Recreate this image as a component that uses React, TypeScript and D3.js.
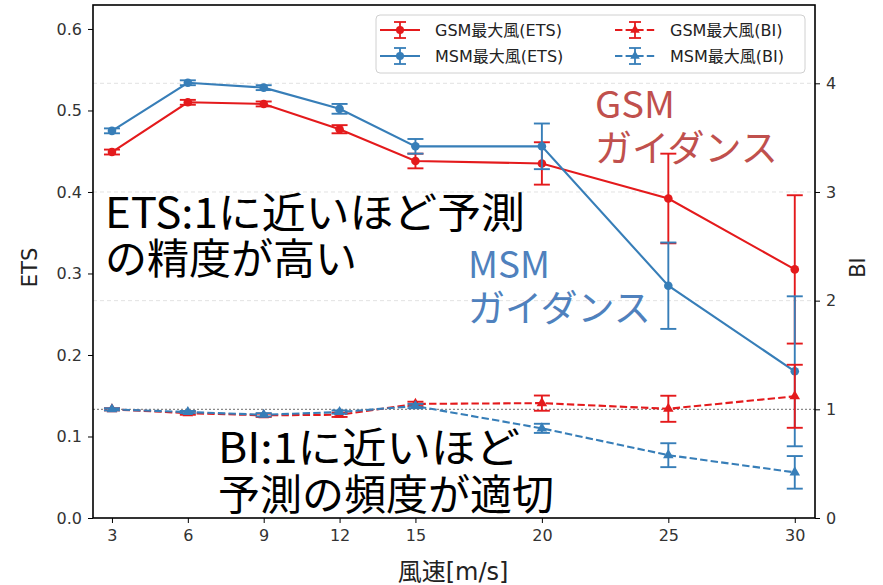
import React, { useEffect, useRef } from 'react'
import * as d3 from 'd3'

// wind speed categories [m/s]
const windSpeed = [3, 6, 9, 12, 15, 20, 25, 30]
const xTicks = [3, 6, 9, 12, 15, 20, 25, 30]

// ETS (left axis)
const gsmEts = [0.449, 0.51, 0.508, 0.477, 0.438, 0.435, 0.392, 0.305]
const gsmEtsErr = [0.003, 0.003, 0.003, 0.005, 0.009, 0.026, 0.055, 0.091]
const msmEts = [0.475, 0.534, 0.528, 0.502, 0.456, 0.456, 0.285, 0.18]
const msmEtsErr = [0.003, 0.003, 0.003, 0.006, 0.009, 0.028, 0.053, 0.092]

// BI (right axis)
const gsmBi = [1.0, 0.965, 0.945, 0.95, 1.05, 1.057, 1.005, 1.12]
const gsmBiErr = [0.01, 0.015, 0.015, 0.02, 0.02, 0.07, 0.12, 0.29]
const msmBi = [1.0, 0.975, 0.95, 0.975, 1.03, 0.825, 0.578, 0.42]
const msmBiErr = [0.01, 0.01, 0.015, 0.015, 0.02, 0.042, 0.11, 0.15]

const etsTicks = [0.0, 0.1, 0.2, 0.3, 0.4, 0.5, 0.6]
const biTicks = [0, 1, 2, 3, 4]

const legendLabels = [
  'GSM最大風(ETS)',
  'MSM最大風(ETS)',
  'GSM最大風(BI)',
  'MSM最大風(BI)',
]

const RED = '#e41a1c'
const BLUE = '#377eb8'
const FONT = '"DejaVu Sans", "Noto Sans CJK JP", sans-serif'
const JP = '"Noto Sans CJK JP", sans-serif'

const App: React.FC = () => {
  const svgRef = useRef<SVGSVGElement | null>(null)

  useEffect(() => {
    if (!svgRef.current) return
    const svg = d3.select(svgRef.current)
    svg.selectAll('*').remove()

    const width = 883
    const height = 585
    const margin = { top: 5, right: 68, bottom: 67, left: 93 }
    const x0 = margin.left
    const x1 = width - margin.right
    const y0 = height - margin.bottom
    const y1 = margin.top

    svg.append('rect').attr('width', width).attr('height', height).attr('fill', '#fff')

    const x = d3.scaleLinear().domain([2.25, 30.8]).range([x0, x1])
    const yEts = d3.scaleLinear().domain([0, 0.6294]).range([y0, y1])
    const yBi = d3.scaleLinear().domain([0, 0.6294 * 7.5]).range([y0, y1])

    // grid from the BI axis
    svg
      .append('g')
      .selectAll('line')
      .data(biTicks.filter((d) => d > 1))
      .enter()
      .append('line')
      .attr('x1', x0)
      .attr('x2', x1)
      .attr('y1', (d) => yBi(d))
      .attr('y2', (d) => yBi(d))
      .attr('stroke', '#e2e2e2')
      .attr('stroke-width', 1)
      .attr('stroke-dasharray', '4,3')

    // BI = 1 reference line
    svg
      .append('line')
      .attr('x1', x0)
      .attr('x2', x1)
      .attr('y1', yBi(1))
      .attr('y2', yBi(1))
      .attr('stroke', '#8a8a8a')
      .attr('stroke-width', 1.2)
      .attr('stroke-dasharray', '2,2')

    const drawSeries = (
      vals: number[],
      errs: number[],
      y: d3.ScaleLinear<number, number>,
      color: string,
      dashed: boolean,
      marker: 'circle' | 'triangle',
    ) => {
      const g = svg.append('g')
      const line = d3
        .line<number>()
        .x((_, i) => x(windSpeed[i]))
        .y((d) => y(d))
      g.append('path')
        .attr('d', line(vals)!)
        .attr('fill', 'none')
        .attr('stroke', color)
        .attr('stroke-width', 2.1)
        .attr('stroke-dasharray', dashed ? '7.4,3.2' : null)

      vals.forEach((v, i) => {
        const cx = x(windSpeed[i])
        const top = y(v + errs[i])
        const bot = y(v - errs[i])
        g.append('line')
          .attr('x1', cx)
          .attr('x2', cx)
          .attr('y1', top)
          .attr('y2', bot)
          .attr('stroke', color)
          .attr('stroke-width', 1.9)
        ;[top, bot].forEach((cy) => {
          g.append('line')
            .attr('x1', cx - 8)
            .attr('x2', cx + 8)
            .attr('y1', cy)
            .attr('y2', cy)
            .attr('stroke', color)
            .attr('stroke-width', 1.9)
        })
        if (marker === 'circle') {
          g.append('circle').attr('cx', cx).attr('cy', y(v)).attr('r', 4.3).attr('fill', color)
        } else {
          g.append('path')
            .attr('d', d3.symbol(d3.symbolTriangle, 48)()!)
            .attr('transform', `translate(${cx},${y(v)})`)
            .attr('fill', color)
        }
      })
    }

    drawSeries(gsmEts, gsmEtsErr, yEts, RED, false, 'circle')
    drawSeries(msmEts, msmEtsErr, yEts, BLUE, false, 'circle')
    drawSeries(gsmBi, gsmBiErr, yBi, RED, true, 'triangle')
    drawSeries(msmBi, msmBiErr, yBi, BLUE, true, 'triangle')

    // axes
    const styleAxis = (g: d3.Selection<SVGGElement, unknown, null, undefined>) => {
      g.select('.domain').remove()
      g.selectAll('.tick line').attr('stroke', '#000').attr('stroke-width', 1)
      g.selectAll('.tick text')
        .attr('fill', '#333')
        .style('font-family', FONT)
        .style('font-size', '16px')
    }

    svg
      .append('g')
      .attr('transform', `translate(0,${y0})`)
      .call(d3.axisBottom(x).tickValues(xTicks).tickSize(5).tickPadding(7).tickFormat(d3.format('d')))
      .call(styleAxis)
    svg
      .append('g')
      .attr('transform', `translate(${x0},0)`)
      .call(d3.axisLeft(yEts).tickValues(etsTicks).tickSize(5).tickPadding(6).tickFormat(d3.format('.1f')))
      .call(styleAxis)
    svg
      .append('g')
      .attr('transform', `translate(${x1},0)`)
      .call(d3.axisRight(yBi).tickValues(biTicks).tickSize(5).tickPadding(6).tickFormat(d3.format('d')))
      .call(styleAxis)

    svg
      .append('rect')
      .attr('x', x0)
      .attr('y', y1)
      .attr('width', x1 - x0)
      .attr('height', y0 - y1)
      .attr('fill', 'none')
      .attr('stroke', '#000')
      .attr('stroke-width', 1.6)

    // axis labels
    svg
      .append('text')
      .attr('transform', `translate(37,${(y0 + y1) / 2 + 6}) rotate(-90)`)
      .attr('text-anchor', 'middle')
      .style('font-family', FONT)
      .style('font-size', '21px')
      .attr('fill', '#222')
      .text('ETS')
    svg
      .append('text')
      .attr('transform', `translate(865,${(y0 + y1) / 2 + 6}) rotate(-90)`)
      .attr('text-anchor', 'middle')
      .style('font-family', FONT)
      .style('font-size', '21px')
      .attr('fill', '#222')
      .text('BI')
    svg
      .append('text')
      .attr('x', 453)
      .attr('y', 580)
      .attr('text-anchor', 'middle')
      .style('font-family', FONT)
      .style('font-size', '24px')
      .attr('fill', '#222')
      .text('風速[m/s]')

    // legend
    const lg = svg.append('g')
    lg.append('rect')
      .attr('x', 376)
      .attr('y', 15)
      .attr('width', 429)
      .attr('height', 58)
      .attr('rx', 4)
      .attr('fill', '#fff')
      .attr('fill-opacity', 0.85)
      .attr('stroke', '#d0d0d0')
    const legendItems = [
      { color: RED, dashed: false, marker: 'circle', col: 0, row: 0 },
      { color: BLUE, dashed: false, marker: 'circle', col: 0, row: 1 },
      { color: RED, dashed: true, marker: 'triangle', col: 1, row: 0 },
      { color: BLUE, dashed: true, marker: 'triangle', col: 1, row: 1 },
    ]
    legendItems.forEach((it, i) => {
      const hx = it.col === 0 ? 380 : 615
      const tx = it.col === 0 ? 435 : 670
      const cy = it.row === 0 ? 30 : 56
      const cx = hx + 20
      lg.append('line')
        .attr('x1', hx)
        .attr('x2', hx + 40)
        .attr('y1', cy)
        .attr('y2', cy)
        .attr('stroke', it.color)
        .attr('stroke-width', 2)
        .attr('stroke-dasharray', it.dashed ? '7.4,3.2' : null)
      lg.append('line')
        .attr('x1', cx)
        .attr('x2', cx)
        .attr('y1', cy - 8)
        .attr('y2', cy + 8)
        .attr('stroke', it.color)
        .attr('stroke-width', 1.8)
      ;[cy - 8, cy + 8].forEach((yy) => {
        lg.append('line')
          .attr('x1', cx - 6)
          .attr('x2', cx + 6)
          .attr('y1', yy)
          .attr('y2', yy)
          .attr('stroke', it.color)
          .attr('stroke-width', 1.8)
      })
      if (it.marker === 'circle') {
        lg.append('circle').attr('cx', cx).attr('cy', cy).attr('r', 4).attr('fill', it.color)
      } else {
        lg.append('path')
          .attr('d', d3.symbol(d3.symbolTriangle, 40)()!)
          .attr('transform', `translate(${cx},${cy})`)
          .attr('fill', it.color)
      }
      lg.append('text')
        .attr('x', tx)
        .attr('y', cy + 6)
        .style('font-family', FONT)
        .style('font-size', '16px')
        .attr('fill', '#222')
        .text(legendLabels[i])
    })

    // annotations
    const note = (
      t: string,
      tx: number,
      ty: number,
      size: number,
      color: string,
      len?: number,
    ) => {
      const el = svg
        .append('text')
        .attr('x', tx)
        .attr('y', ty)
        .style('font-family', JP)
        .style('font-size', `${size}px`)
        .attr('fill', color)
        .text(t)
      if (len) el.attr('textLength', len).attr('lengthAdjust', 'spacingAndGlyphs')
    }
    note('ETS:1に近いほど予測', 105, 228, 42, '#000', 420)
    note('の精度が高い', 105, 274, 42, '#000')
    note('BI:1に近いほど', 218, 463, 42, '#000', 302)
    note('予測の頻度が適切', 218, 510, 42, '#000')
    note('GSM', 595, 118, 37, '#c0504d', 80)
    note('ガイダンス', 595, 162, 37, '#c0504d')
    note('MSM', 468, 278, 37, '#4f81bd', 82)
    note('ガイダンス', 468, 322, 37, '#4f81bd')
  }, [])

  return (
    <svg
      ref={svgRef}
      width={883}
      height={585}
      style={{ position: 'absolute', left: 0, top: 0 }}
    ></svg>
  )
}

export default App
